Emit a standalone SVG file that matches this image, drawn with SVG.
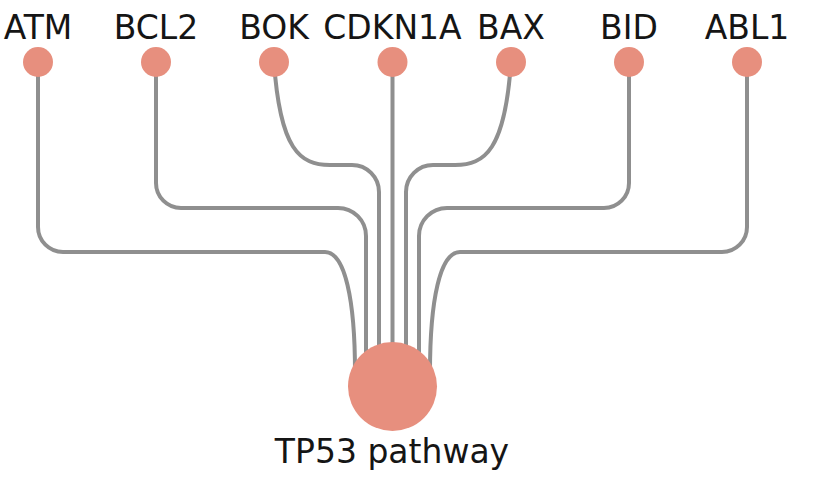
<svg xmlns="http://www.w3.org/2000/svg" width="826" height="504" viewBox="0 0 826 504">
<style>
.edge{fill:none;stroke:#8f8f8f;stroke-width:4;stroke-linecap:round}
.node{fill:#e78f7e}
.lbl{font-family:"DejaVu Sans",sans-serif;font-size:33px;fill:#151515;text-anchor:middle}
</style>
<rect width="826" height="504" fill="#ffffff"/>
<g id="connectors">
<path class="edge" d="M38,62 V227 A25,25 0 0 0 63,252 H325 C345,252 355,300 355,372"/>
<path class="edge" d="M156,62 V183 A25,25 0 0 0 181,208 H338 A28,28 0 0 1 366,236 V372"/>
<path class="edge" d="M274,62 C280,150 300,165 330,165 H352 A27,27 0 0 1 379,192 V372"/>
<path class="edge" d="M392.5,62 V372"/>
<path class="edge" d="M511,62 C505,150 485,165 455,165 H433 A27,27 0 0 0 406,192 V372"/>
<path class="edge" d="M629,62 V183 A25,25 0 0 1 604,208 H447 A28,28 0 0 0 419,236 V372"/>
<path class="edge" d="M747,62 V227 A25,25 0 0 1 722,252 H460 C440,252 430,300 430,372"/>
</g>
<g id="node-ATM"><circle class="node" cx="38" cy="62" r="15"/><text class="lbl" x="38" y="39">ATM</text></g>
<g id="node-BCL2"><circle class="node" cx="156" cy="62" r="15"/><text class="lbl" x="156" y="39">BCL2</text></g>
<g id="node-BOK"><circle class="node" cx="274" cy="62" r="15"/><text class="lbl" x="274" y="39">BOK</text></g>
<g id="node-CDKN1A"><circle class="node" cx="392.5" cy="62" r="15"/><text class="lbl" x="392.5" y="39">CDKN1A</text></g>
<g id="node-BAX"><circle class="node" cx="511" cy="62" r="15"/><text class="lbl" x="511" y="39">BAX</text></g>
<g id="node-BID"><circle class="node" cx="629" cy="62" r="15"/><text class="lbl" x="629" y="39">BID</text></g>
<g id="node-ABL1"><circle class="node" cx="747" cy="62" r="15"/><text class="lbl" x="747" y="39">ABL1</text></g>
<g id="node-TP53"><circle class="node" cx="392.5" cy="386.5" r="44.5"/><text class="lbl" x="392" y="463">TP53 pathway</text></g>
</svg>
